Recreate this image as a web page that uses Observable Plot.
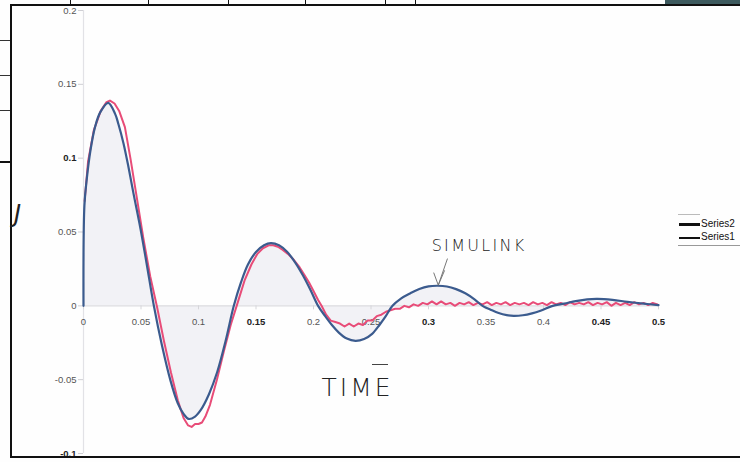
<!DOCTYPE html>
<html>
<head>
<meta charset="utf-8">
<script src="https://cdn.jsdelivr.net/npm/d3@7"></script>
<script src="https://cdn.jsdelivr.net/npm/@observablehq/plot@0.6"></script>
<style>
  body { margin: 0; background: #fff; }
  #wrap { position: relative; width: 740px; height: 462px; overflow: hidden; background: #fefefe; }
  #wrap svg { position: absolute; left: 0; top: 0; }
  .ln { position: absolute; background: #111; }
  .lg { position: absolute; font: 10px "Liberation Sans", Arial, sans-serif; color: #111; }
  .hand { position: absolute; font-family: "DejaVu Sans", sans-serif; font-weight: 200; color: #222; }
</style>
</head>
<body>
<div id="wrap"></div>
<script>
// ---- data ----
const seriesNames = ["Series1", "Series2"];
// Series2 (blue, SIMULINK)
const simT = [0, 0.0008, 0.003, 0.006, 0.010, 0.0145, 0.0215, 0.0275, 0.0304, 0.0348, 0.0391, 0.0435, 0.0496, 0.0548, 0.0612, 0.068, 0.0757, 0.082, 0.087, 0.0915, 0.097, 0.102, 0.109, 0.1162, 0.1235, 0.1307, 0.137, 0.143, 0.150, 0.157, 0.163, 0.170, 0.177, 0.184, 0.191, 0.1975, 0.204, 0.210, 0.216, 0.222, 0.229, 0.2365, 0.244, 0.251, 0.2575, 0.263, 0.2687, 0.276, 0.284, 0.292, 0.300, 0.308, 0.316, 0.324, 0.332, 0.340, 0.347, 0.354, 0.361, 0.368, 0.374, 0.382, 0.390, 0.398, 0.408, 0.418, 0.428, 0.438, 0.447, 0.460, 0.473, 0.487, 0.5];
const simV = [0, 0.068, 0.087, 0.105, 0.121, 0.131, 0.1375, 0.130, 0.123, 0.110, 0.094, 0.076, 0.052, 0.029, 0.000, -0.026, -0.0508, -0.066, -0.0732, -0.0766, -0.0750, -0.0705, -0.060, -0.045, -0.024, 0.000, 0.016, 0.028, 0.0365, 0.041, 0.0425, 0.041, 0.0366, 0.0295, 0.0204, 0.0106, 0.000, -0.0068, -0.013, -0.0181, -0.0222, -0.0237, -0.0225, -0.019, -0.0128, -0.0068, 0.000, 0.0049, 0.0084, 0.0114, 0.0132, 0.0136, 0.0131, 0.0113, 0.0085, 0.0044, 0.000, -0.0026, -0.0049, -0.0063, -0.0068, -0.0064, -0.0051, -0.0031, 0.000, 0.0015, 0.0032, 0.0044, 0.0047, 0.0040, 0.0027, 0.0015, 0.0005];
// Series1 (red, measured)
const measT = [0.001, 0.004, 0.009, 0.015, 0.020, 0.023, 0.027, 0.031, 0.036, 0.041, 0.046, 0.052, 0.058, 0.064, 0.070, 0.076, 0.082, 0.087, 0.091, 0.094, 0.097, 0.100, 0.103, 0.106, 0.110, 0.116, 0.122, 0.128, 0.134, 0.140, 0.146, 0.151, 0.156, 0.161, 0.165, 0.169, 0.173, 0.178, 0.183, 0.188, 0.192, 0.196, 0.200, 0.204, 0.207, 0.211, 0.215, 0.219, 0.223, 0.227, 0.231, 0.235, 0.239, 0.243, 0.247, 0.251, 0.255, 0.259, 0.263, 0.267, 0.271, 0.275, 0.279, 0.283, 0.287, 0.291, 0.295, 0.299, 0.303, 0.307, 0.311, 0.315, 0.319, 0.323, 0.327, 0.331, 0.335, 0.339, 0.343, 0.347, 0.351, 0.355, 0.359, 0.363, 0.367, 0.371, 0.375, 0.379, 0.383, 0.387, 0.391, 0.395, 0.399, 0.403, 0.407, 0.411, 0.415, 0.419, 0.423, 0.427, 0.431, 0.435, 0.439, 0.443, 0.447, 0.451, 0.455, 0.459, 0.463, 0.467, 0.471, 0.475, 0.479, 0.483, 0.487, 0.491, 0.495, 0.499];
const measV = [0.071, 0.098, 0.119, 0.132, 0.138, 0.139, 0.137, 0.132, 0.121, 0.099, 0.075, 0.046, 0.020, -0.001, -0.024, -0.045, -0.064, -0.076, -0.081, -0.082, -0.080, -0.080, -0.079, -0.075, -0.067, -0.050, -0.031, -0.013, 0.002, 0.017, 0.028, 0.035, 0.039, 0.041, 0.041, 0.040, 0.038, 0.035, 0.031, 0.026, 0.021, 0.016, 0.010, 0.004, 0.000, -0.006, -0.010, -0.011, -0.012, -0.014, -0.012, -0.014, -0.012, -0.013, -0.010, -0.010, -0.007, -0.006, -0.004, -0.003, -0.002, -0.002, 0.000, -0.001, 0.001, 0.000, 0.002, 0.001, 0.003, 0.001, 0.003, 0.001, 0.002, 0.000, 0.002, 0.001, 0.0025, 0.0005, 0.002, 0.001, 0.0025, 0.0005, 0.002, 0.001, 0.0025, 0.0005, 0.002, 0.001, 0.002, 0.0005, 0.0025, 0.001, 0.002, 0.0005, 0.0025, 0.001, 0.002, 0.0005, 0.0025, 0.001, 0.002, 0.001, 0.0025, 0.0005, 0.002, 0.001, 0.0025, 0.000, 0.002, 0.0005, 0.002, 0.0005, 0.0025, 0.001, 0.002, 0.0005, 0.002, 0.001];
// tick labels
const xTicks = [0, 0.05, 0.1, 0.15, 0.2, 0.25, 0.3, 0.35, 0.4, 0.45, 0.5];
const xTickLabels = ["0", "0.05", "0.1", "0.15", "0.2", "0.25", "0.3", "0.35", "0.4", "0.45", "0.5"];
const xBold = [false, false, false, true, false, false, true, false, false, true, true];
const yTicks = [-0.1, -0.05, 0, 0.05, 0.1, 0.15, 0.2];
const yTickLabels = ["-0.1", "-0.05", "0", "0.05", "0.1", "0.15", "0.2"];
const yBold = [true, false, false, false, true, false, false];
// hand-written annotations (data coordinates)
const annotations = [
  {t: 0.344, v: 0.0407, text: "SIMULINK"},
  {t: 0.2383, v: -0.0555, text: "TIME"}
];
const arrowStrokes = [
  {t1: 0.3165, v1: 0.0320, t2: 0.3085, v2: 0.0140},
  {t1: 0.3045, v1: 0.0225, t2: 0.3085, v2: 0.0140},
  {t1: 0.3140, v1: 0.0240, t2: 0.3085, v2: 0.0140}
];

const sim = simT.map((t, i) => ({t, v: simV[i]}));
const meas = measT.map((t, i) => ({t, v: measV[i]}));
const xt = xTicks.map((t, i) => ({t, label: xTickLabels[i], bold: xBold[i]}));
const yt = yTicks.map((v, i) => ({v, label: yTickLabels[i], bold: yBold[i]}));

const blue = "#3b5b8e", red = "#e84c78";
const tickFont = "Liberation Sans, Arial, sans-serif";

const chart = Plot.plot({
  width: 740, height: 462,
  marginLeft: 83, marginRight: 82, marginTop: 10, marginBottom: 9,
  x: {domain: [0, 0.5], axis: null},
  y: {domain: [-0.1, 0.2], axis: null},
  style: {background: "transparent"},
  marks: [
    Plot.areaY(sim, {x: "t", y: "v", fill: "#f2f2f6", curve: "catmull-rom"}),
    Plot.ruleX([0], {stroke: "#e2e2e6", strokeWidth: 1.2}),
    Plot.ruleY([0], {stroke: "#dcdce0", strokeWidth: 1.2}),
    Plot.ruleY(yt, {y: "v", x1: 0, x2: 0, insetLeft: -5, stroke: "#cfcfd4"}),
    Plot.ruleX(xt, {x: "t", y1: 0, y2: 0, insetBottom: -4, stroke: "#d6d6da"}),
    Plot.text(yt.filter(d => !d.bold), {x: 0, y: "v", text: "label", textAnchor: "end", dx: -7, fontSize: 9.5, fill: "#555", fontFamily: tickFont}),
    Plot.text(yt.filter(d => d.bold), {x: 0, y: "v", text: "label", textAnchor: "end", dx: -7, fontSize: 9.5, fontWeight: "bold", fill: "#222", fontFamily: tickFont}),
    Plot.text(xt.filter(d => !d.bold), {x: "t", y: 0, text: "label", dy: 16, fontSize: 9.5, fill: "#555", fontFamily: tickFont}),
    Plot.text(xt.filter(d => d.bold), {x: "t", y: 0, text: "label", dy: 16, fontSize: 9.5, fontWeight: "bold", fill: "#222", fontFamily: tickFont}),
    Plot.line(meas, {x: "t", y: "v", stroke: red, strokeWidth: 2, curve: "linear"}),
    Plot.line(sim, {x: "t", y: "v", stroke: blue, strokeWidth: 2.2, curve: "catmull-rom"}),
    Plot.link(arrowStrokes, {x1: "t1", y1: "v1", x2: "t2", y2: "v2", stroke: "#777", strokeWidth: 1}),
    Plot.text(annotations.slice(0, 1), {x: "t", y: "v", text: "text", fontSize: 16, fill: "#222", fontFamily: "DejaVu Sans, sans-serif", fontWeight: 200}),
    Plot.text(annotations.slice(1), {x: "t", y: "v", text: "text", fontSize: 25, fill: "#222", fontFamily: "DejaVu Sans, sans-serif", fontWeight: 200})
  ]
});
// hand-lettered spacing
d3.select(chart).selectAll("text").each(function() {
  if (this.textContent === "SIMULINK") this.setAttribute("letter-spacing", "2.3");
  if (this.textContent === "TIME") this.setAttribute("letter-spacing", "3");
});
const wrap = document.getElementById("wrap");
wrap.appendChild(chart);

// scanned page frame and legend
function line(l, t, w, h, c) {
  const d = document.createElement("div");
  d.className = "ln";
  Object.assign(d.style, {left: l + "px", top: t + "px", width: w + "px", height: h + "px"});
  if (c) d.style.background = c;
  wrap.appendChild(d);
}
line(10, 4, 730, 2);      // top of frame
line(10, 4, 2, 454);      // left of frame
line(10, 456, 730, 2);    // bottom of frame
[70, 148, 228, 305, 385, 415].forEach(x => line(x, 0, 1, 5));
line(665, 0, 75, 4, "#3d5a5e");
[40, 75, 110].forEach(y => line(0, y, 10, 1, "#333"));
line(0, 161, 10, 2);
// legend
line(678, 214, 22, 1, "#bbb");
line(679, 223, 21, 3, "#111");
line(679, 237, 21, 2, "#111");
line(678, 245, 62, 1, "#999");
seriesNames.slice().reverse().forEach((n, i) => {
  const s = document.createElement("div");
  s.className = "lg";
  s.textContent = n;
  s.style.left = "701px";
  s.style.top = (218 + i * 13) + "px";
  wrap.appendChild(s);
});
const j = document.createElement("div");
j.className = "hand";
j.textContent = "J";
Object.assign(j.style, {left: "14px", top: "200px", fontSize: "24px", fontStyle: "italic"});
wrap.appendChild(j);
line(372, 364, 16, 1, "#444");
</script>
</body>
</html>
